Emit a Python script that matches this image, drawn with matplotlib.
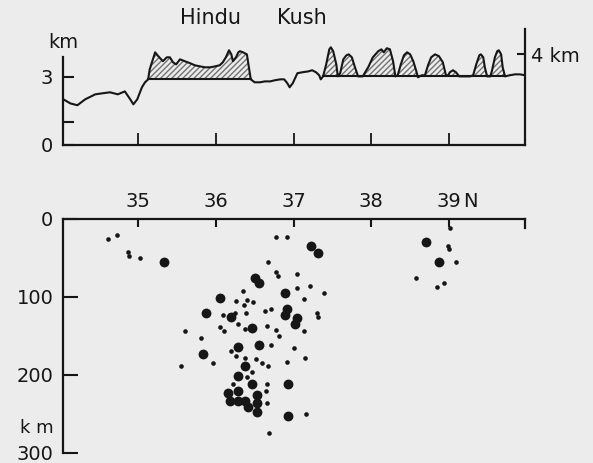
import matplotlib
matplotlib.use("Agg")
import numpy as np
import matplotlib.pyplot as plt

# topographic profile along the section (longitude in deg E, elevation in km)
prof_lon = [34.04, 34.13, 34.22, 34.32, 34.45, 34.55, 34.64, 34.74, 34.83, 34.90,
            34.94, 34.99, 35.05, 35.09, 35.13, 35.15, 35.22, 35.26, 35.32, 35.37,
            35.41, 35.45, 35.49, 35.54, 35.60, 35.67, 35.73, 35.80, 35.86, 35.93,
            35.99, 36.05, 36.09, 36.13, 36.17, 36.20, 36.22, 36.26, 36.29, 36.31,
            36.35, 36.40, 36.43, 36.45, 36.50, 36.57, 36.63, 36.70, 36.76, 36.83,
            36.88, 36.92, 36.95, 36.99, 37.05, 37.11, 37.19, 37.24, 37.29, 37.33,
            37.35, 37.38, 37.42, 37.46, 37.48, 37.51, 37.55, 37.57, 37.60, 37.64,
            37.68, 37.71, 37.75, 37.79, 37.83, 37.89, 37.96, 38.02, 38.09, 38.13,
            38.16, 38.20, 38.24, 38.28, 38.31, 38.34, 38.38, 38.42, 38.46, 38.50,
            38.54, 38.58, 38.60, 38.65, 38.69, 38.73, 38.77, 38.82, 38.87, 38.92,
            38.96, 38.99, 39.01, 39.05, 39.09, 39.13, 39.21, 39.27, 39.31, 39.35,
            39.39, 39.41, 39.44, 39.46, 39.49, 39.53, 39.55, 39.59, 39.62, 39.64,
            39.67, 39.69, 39.72, 39.78, 39.85, 39.91, 39.98]
prof_km = [2.01, 1.83, 1.75, 2.01, 2.23, 2.28, 2.32, 2.23, 2.36, 2.01,
           1.79, 2.01, 2.54, 2.76, 2.89, 3.33, 4.08, 3.91, 3.69, 3.86,
           3.86, 3.64, 3.55, 3.77, 3.69, 3.60, 3.51, 3.46, 3.42, 3.42,
           3.46, 3.51, 3.64, 3.86, 4.17, 3.99, 3.69, 3.86, 4.08, 4.13,
           4.08, 3.99, 3.33, 2.89, 2.76, 2.76, 2.80, 2.80, 2.85, 2.89,
           2.89, 2.72, 2.54, 2.72, 3.16, 3.20, 3.24, 3.29, 3.20, 3.07,
           2.89, 3.02, 3.55, 4.21, 4.30, 4.13, 3.55, 3.02, 3.16, 3.77,
           3.95, 3.99, 3.86, 3.42, 3.02, 3.02, 3.42, 3.86, 4.13, 4.21,
           4.08, 4.26, 4.21, 3.69, 3.02, 3.07, 3.55, 3.95, 4.08, 3.99,
           3.69, 3.24, 2.98, 3.07, 3.07, 3.51, 3.86, 3.99, 3.91, 3.64,
           3.07, 3.07, 3.20, 3.29, 3.20, 3.02, 3.02, 3.02, 3.07, 3.55,
           3.95, 3.99, 3.86, 3.42, 3.02, 3.02, 3.24, 3.86, 4.13, 4.17,
           3.99, 3.42, 3.02, 3.07, 3.11, 3.11, 3.07]

# hatched parts: (start lon, end lon, base level km)
hatch_ranges = [(35.13, 36.45, 2.89), (37.38, 39.72, 3.02)]

# earthquakes: small events
small_lon = [34.61, 34.73, 34.87, 34.88, 35.03, 36.78, 36.92, 36.67, 36.77, 36.80,
             37.04, 37.04, 37.21, 37.39, 36.35, 37.14, 36.26, 36.40, 36.48, 36.36,
             36.09, 36.25, 36.39, 36.63, 36.71, 37.30, 37.31, 36.29, 36.05, 36.11,
             36.38, 36.66, 36.77, 36.81, 37.13, 35.60, 35.81, 36.71, 37.01, 36.19,
             36.26, 36.37, 36.52, 36.60, 36.67, 37.15, 36.91, 35.97, 35.55, 36.46,
             36.40, 36.22, 36.66, 36.65, 36.66, 37.16, 36.68, 39.01, 38.99, 39.00,
             39.09, 38.58, 38.85, 38.94]
small_dep = [25, 20, 42, 47, 50, 23, 23, 55, 68, 73,
             70, 88, 86, 95, 92, 102, 105, 104, 107, 110,
             123, 120, 120, 118, 116, 120, 126, 134, 138, 143,
             141, 137, 142, 150, 144, 144, 153, 161, 166, 169,
             175, 178, 180, 185, 189, 178, 183, 185, 188, 196,
             203, 211, 211, 221, 236, 250, 274, 12, 35, 38,
             55, 75, 87, 82]

# earthquakes: larger events
big_lon = [35.33, 37.23, 37.31, 36.51, 36.55, 36.89, 36.05, 36.91, 36.89, 35.88,
           36.19, 37.04, 37.02, 36.46, 36.56, 36.28, 35.83, 36.38, 36.28, 36.46,
           36.93, 36.16, 36.28, 36.18, 36.28, 36.38, 36.41, 36.53, 36.53, 36.53,
           36.93, 38.70, 38.87]
big_dep = [55, 35, 43, 75, 82, 95, 101, 116, 123, 120,
           126, 127, 135, 140, 162, 164, 173, 189, 201, 211,
           212, 223, 220, 233, 233, 233, 241, 226, 236, 247,
           253, 30, 55]

lon_ticks = [35, 36, 37, 38, 39]
depth_ticks = [0, 100, 200, 300]

bg = '#ececec'
ink = '#161616'
plt.rcParams['font.family'] = 'DejaVu Sans'

fig = plt.figure(figsize=(5.93, 4.63), dpi=100, facecolor=bg)
W, H = 593, 463
xlim = (34.035, 39.977)

# ---- upper panel: topography ----
ax1 = fig.add_axes([63 / W, (H - 145.0) / H, 462 / W, (145.0 - 28) / H])
ax1.patch.set_visible(False)
ax1.set_xlim(*xlim)
ax1.set_ylim(0, 5.15)
ax1.plot(prof_lon, prof_km, color=ink, lw=1.5, solid_joinstyle='round')
plon = np.array(prof_lon)
pkm = np.array(prof_km)
for a, b, base in hatch_ranges:
    m = (plon >= a) & (plon <= b)
    ax1.fill_between(plon[m], pkm[m], base, where=pkm[m] >= base, interpolate=True,
                     facecolor='none', edgecolor='0.45', hatch='//////', lw=0)
    ax1.plot([a, b], [base, base], color=ink, lw=1.5)

ax1.spines['top'].set_visible(False)
ax1.spines['right'].set_visible(False)
for s in ['left', 'bottom']:
    ax1.spines[s].set_linewidth(1.6)
    ax1.spines[s].set_color(ink)
ax1.spines['left'].set_bounds(0, 3.86)
ax1.set_xticks(lon_ticks)
ax1.set_xticklabels([])
ax1.tick_params(axis='x', direction='in', length=9, width=1.3, colors=ink)
ax1.set_yticks([0, 1, 3])
ax1.set_yticklabels(['0', '', '3'])
ax1.tick_params(axis='y', direction='in', length=8, width=1.5, pad=7,
                labelsize=14, colors=ink)

ax1r = ax1.twinx()
ax1r.set_ylim(ax1.get_ylim())
for s in ['top', 'left', 'bottom']:
    ax1r.spines[s].set_visible(False)
ax1r.spines['right'].set_linewidth(1.6)
ax1r.spines['right'].set_color(ink)
ax1r.spines['right'].set_bounds(0, 5.09)
ax1r.set_yticks([4])
ax1r.set_yticklabels(['4 km'])
ax1r.tick_params(axis='y', direction='in', length=6, width=1.5, pad=4,
                 labelsize=14, colors=ink)

ax1.text(xlim[0], 4.52, 'km', ha='center', va='center', fontsize=14, color=ink)
ax1.text(35.93, 5.58, 'Hindu', ha='center', va='center', fontsize=15, color=ink)
ax1.text(37.11, 5.58, 'Kush', ha='center', va='center', fontsize=15, color=ink)

# ---- lower panel: earthquake depths ----
ax2 = fig.add_axes([63 / W, 10 / H, 462 / W, (453 - 219.0) / H])
ax2.patch.set_visible(False)
ax2.set_xlim(*xlim)
ax2.set_ylim(300, 0)
ax2.scatter(small_lon, small_dep, s=11, color=ink, lw=0)
ax2.scatter(big_lon, big_dep, s=50, color=ink, lw=0)

ax2.spines['bottom'].set_visible(False)
for s in ['top', 'left', 'right']:
    ax2.spines[s].set_linewidth(1.6)
    ax2.spines[s].set_color(ink)
ax2.spines['right'].set_bounds(0, 11)
ax2.xaxis.tick_top()
ax2.set_xticks(lon_ticks)
ax2.set_xticklabels([str(t) for t in lon_ticks])
ax2.tick_params(axis='x', direction='in', length=6, width=1.5, pad=6,
                labelsize=14, colors=ink)
ax2.set_yticks(depth_ticks)
ax2.tick_params(axis='y', direction='in', length=11, width=1.5, pad=7,
                labelsize=14, colors=ink)
ax2.text(39.18, -23, 'N', ha='left', va='center', fontsize=14, color=ink)
ax2.text(33.91, 268, 'k m', ha='right', va='center', fontsize=13, color=ink)

fig.savefig('out.png', dpi=100, facecolor=bg)
